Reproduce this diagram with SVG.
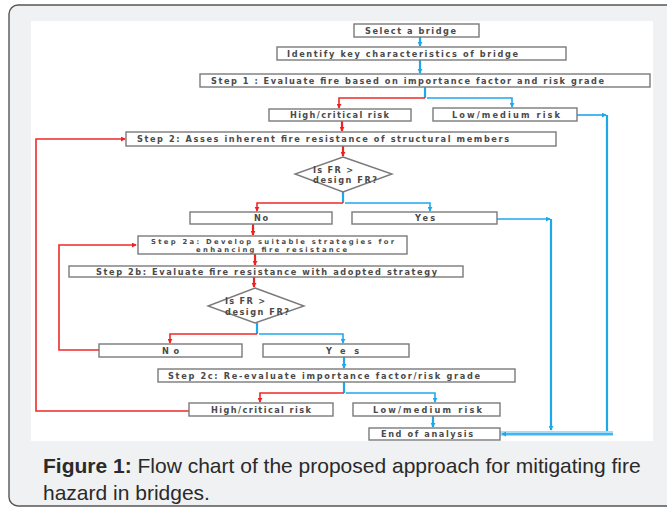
<svg xmlns="http://www.w3.org/2000/svg" width="667" height="508" viewBox="0 0 667 508">
<style>
.box{fill:#fff;stroke:#7a7a7a;stroke-width:1.4}
.t{font-family:"DejaVu Sans",sans-serif;font-size:8.2px;font-weight:bold;fill:#4a4a4a}
.s{font-size:6.8px}
.r{fill:none;stroke:#ee2a2a;stroke-width:1.6}
.b{fill:none;stroke:#1ea8ec;stroke-width:1.6}
.rd{fill:none;stroke:#ee2222;stroke-width:2.2}
.bd{fill:none;stroke:#1ea8ec;stroke-width:2.2}
.cap{font-family:"Liberation Sans",Arial,sans-serif;font-size:21px;fill:#2a2a2a}
</style>
<defs>
<marker id="ar" viewBox="0 0 6 6" refX="5" refY="3" markerWidth="5" markerHeight="5" markerUnits="userSpaceOnUse" orient="auto"><path d="M0,0 L6,3 L0,6 z" fill="#ee2222"/></marker>
<marker id="ab" viewBox="0 0 6 6" refX="5" refY="3" markerWidth="5" markerHeight="5" markerUnits="userSpaceOnUse" orient="auto"><path d="M0,0 L6,3 L0,6 z" fill="#1ea8ec"/></marker>
</defs>
<rect x="0" y="0" width="667" height="508" fill="#ffffff"/>
<rect x="9" y="5" width="700" height="501" rx="9" fill="#f0f1f3" stroke="#555" stroke-width="1.4"/>
<rect x="31" y="21" width="622" height="420" fill="#ffffff"/>

<g id="connectors">
<path class="bd" d="M420,37 V46" marker-end="url(#ab)"/>
<path class="bd" d="M420,60 V73" marker-end="url(#ab)"/>
<path class="bd" d="M425,87 V98"/>
<path class="r" d="M425,98 H339 V108" marker-end="url(#ar)"/>
<path class="b" d="M427,98 H512 V107" marker-end="url(#ab)"/>
<path class="rd" d="M342,121 V131" marker-end="url(#ar)"/>
<path class="b" d="M577,115 H606" marker-end="url(#ab)"/>
<path class="bd" d="M607,115 V434"/>
<path class="rd" d="M343,146 V156" marker-end="url(#ar)"/>
<path class="bd" d="M343,192 V203"/>
<path class="r" d="M343,203 H257 V211" marker-end="url(#ar)"/>
<path class="b" d="M345,203 H430 V211" marker-end="url(#ab)"/>
<path class="b" d="M497,219 H550" marker-end="url(#ab)"/>
<path class="bd" d="M551,219 V430" marker-end="url(#ab)"/>
<path class="rd" d="M253,224 V235" marker-end="url(#ar)"/>
<path class="rd" d="M255,254 V265" marker-end="url(#ar)"/>
<path class="rd" d="M254,276 V287" marker-end="url(#ar)"/>
<path class="bd" d="M257,323 V334"/>
<path class="r" d="M257,334 H170 V343" marker-end="url(#ar)"/>
<path class="b" d="M259,334 H343 V343" marker-end="url(#ab)"/>
<path class="r" d="M99,350 H59 V245 H136" marker-end="url(#ar)"/>
<path class="bd" d="M344,357 V368" marker-end="url(#ab)"/>
<path class="bd" d="M344,382 V393"/>
<path class="r" d="M344,393 H260 V402" marker-end="url(#ar)"/>
<path class="b" d="M346,393 H435 V402" marker-end="url(#ab)"/>
<path class="r" d="M189,411 H36 V139 H125" marker-end="url(#ar)"/>
<path class="bd" d="M433,416 V427" marker-end="url(#ab)"/>
<path d="M500,433.5 H613" stroke="#a9dcf6" stroke-width="5" fill="none"/>
<path class="b" d="M613,434 H502" marker-end="url(#ab)"/>
</g>

<g id="select"><rect class="box" x="354" y="24" width="125" height="13"/><text class="t" x="365" y="33.5" textLength="91" lengthAdjust="spacing">Select a bridge</text></g>
<g id="identify"><rect class="box" x="277" y="47" width="289" height="13"/><text class="t" x="287" y="56.5" textLength="231" lengthAdjust="spacing">Identify key characteristics of bridge</text></g>
<g id="step1"><rect class="box" x="200" y="74" width="450" height="13"/><text class="t" x="211" y="83.5" textLength="393" lengthAdjust="spacing">Step 1 : Evaluate fire based on importance factor and risk grade</text></g>
<g id="high1"><rect class="box" x="269" y="109" width="142" height="12"/><text class="t" x="290" y="118" textLength="99" lengthAdjust="spacing">High/critical risk</text></g>
<g id="low1"><rect class="box" x="433" y="108" width="144" height="13"/><text class="t" x="452" y="117.5" textLength="108" lengthAdjust="spacing">Low/medium risk</text></g>
<g id="step2"><rect class="box" x="126" y="132" width="430" height="14"/><text class="t" x="137" y="142" textLength="372" lengthAdjust="spacing">Step 2: Asses inherent  fire resistance of structural members</text></g>
<g id="dec1"><polygon class="box" points="343,157 392,174 343,192 295,174"/><text class="t" x="313" y="173" textLength="40" lengthAdjust="spacing">Is FR &gt;</text><text class="t" x="313" y="183" textLength="64" lengthAdjust="spacing">design FR?</text></g>
<g id="no1"><rect class="box" x="190" y="212" width="142" height="12"/><text class="t" x="254" y="221" textLength="14" lengthAdjust="spacing">No</text></g>
<g id="yes1"><rect class="box" x="352" y="212" width="145" height="12"/><text class="t" x="415" y="221" textLength="20" lengthAdjust="spacing">Yes</text></g>
<g id="step2a"><rect class="box" x="138" y="236" width="269" height="18"/><text class="t s" x="151" y="243.5" textLength="243" lengthAdjust="spacing">Step 2a: Develop suitable strategies for</text><text class="t s" x="196" y="251.5" textLength="151" lengthAdjust="spacing">enhancing fire resistance</text></g>
<g id="step2b"><rect class="box" x="69" y="266" width="394" height="11"/><text class="t" x="96" y="274.5" textLength="341" lengthAdjust="spacing">Step 2b: Evaluate fire resistance with adopted  strategy</text></g>
<g id="dec2"><polygon class="box" points="255,288 304,306 255,323 208,306"/><text class="t" x="225" y="304" textLength="40" lengthAdjust="spacing">Is FR &gt;</text><text class="t" x="225" y="314.5" textLength="64" lengthAdjust="spacing">design FR?</text></g>
<g id="no2"><rect class="box" x="99" y="344" width="143" height="13"/><text class="t" x="162" y="353.5" textLength="17" lengthAdjust="spacing">No</text></g>
<g id="yes2"><rect class="box" x="263" y="344" width="146" height="13"/><text class="t" x="326" y="353.5" textLength="33" lengthAdjust="spacing">Yes</text></g>
<g id="step2c"><rect class="box" x="158" y="369" width="357" height="13"/><text class="t" x="168" y="378.5" textLength="312" lengthAdjust="spacing">Step 2c: Re-evaluate importance factor/risk grade</text></g>
<g id="high2"><rect class="box" x="189" y="403" width="144" height="13"/><text class="t" x="211" y="412.5" textLength="100" lengthAdjust="spacing">High/critical risk</text></g>
<g id="low2"><rect class="box" x="353" y="403" width="147" height="13"/><text class="t" x="373" y="412.5" textLength="109" lengthAdjust="spacing">Low/medium risk</text></g>
<g id="end"><rect class="box" x="369" y="428" width="131" height="12"/><text class="t" x="381" y="437" textLength="92" lengthAdjust="spacing">End of analysis</text></g>

<text class="cap" x="43" y="473"><tspan font-weight="bold">Figure 1:</tspan> Flow chart of the proposed approach for mitigating fire</text>
<text class="cap" x="43" y="500">hazard in bridges.</text>
</svg>
